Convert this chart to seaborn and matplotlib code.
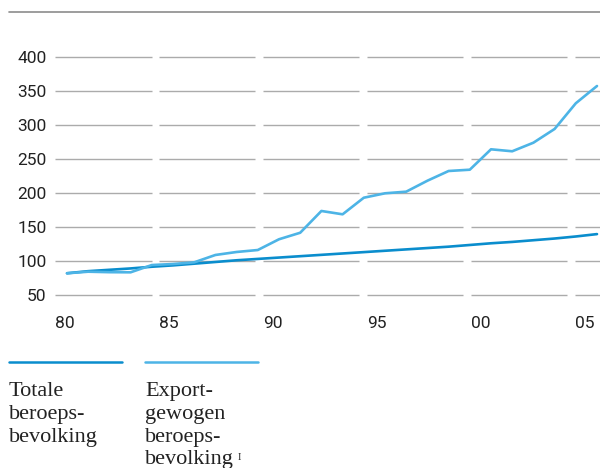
import numpy as np
import pandas as pd
import matplotlib
matplotlib.use("Agg")
import matplotlib.pyplot as plt
from matplotlib.lines import Line2D
import seaborn as sns

# ---------------- data ----------------
years = list(range(1980, 2006))
totale = [82.4, 85.5, 87.5, 89.5, 92.0, 94.0, 96.5, 99.0, 101.5, 103.5,
          105.5, 107.5, 109.5, 111.5, 113.5, 115.5, 117.5, 119.5, 121.5, 124.0,
          126.5, 128.5, 131.0, 133.5, 136.5, 140.0]
export = [82.4, 84.7, 84.0, 83.8, 94.5, 96.0, 98.5, 109.3, 113.7, 116.6,
          132.4, 142.0, 174.0, 169.1, 193.5, 200.0, 202.4, 218.5, 232.8, 234.7,
          264.7, 261.8, 274.4, 294.6, 332.4, 357.8]
y_ticks = [50, 100, 150, 200, 250, 300, 350, 400]
x_tick_labels = ["80", "85", "90", "95", "00", "05"]
series_names = ["Totale beroepsbevolking", "Exportgewogen beroepsbevolking"]
legend_texts = ["Totale\nberoeps-\nbevolking", "Export-\ngewogen\nberoeps-\nbevolking"]
colors = ["#0a8dcd", "#4db4e6"]

df = pd.DataFrame({
    "jaar": years * 2,
    "waarde": totale + export,
    "reeks": [series_names[0]] * len(years) + [series_names[1]] * len(years),
})

# ---------------- figure ----------------
sns.set_theme(style="white")
plt.rcParams["font.family"] = ["Roboto", "DejaVu Sans"]

W, H = 600, 468
fig = plt.figure(figsize=(W / 100, H / 100), dpi=100)

def fy(py):
    return 1 - py / H

ax_left, ax_right = 55, 600
ax_top, ax_bot = 53.9, 298.7
ax = fig.add_axes([ax_left / W, fy(ax_bot), (ax_right - ax_left) / W, (ax_bot - ax_top) / H])

px_per_year = 21.2
x0_px = 67.0
ax.set_xlim(1980 - (x0_px - ax_left) / px_per_year, 1980 + (ax_right - x0_px) / px_per_year)
ax.set_ylim(45, 405)

# segmented horizontal gridlines
seg_starts = [55.5 + 103.9 * k for k in range(6)]
for s in seg_starts:
    e = min(s + 96, 600)
    ax.hlines(y_ticks, (s - ax_left) / (ax_right - ax_left), (e - ax_left) / (ax_right - ax_left),
              transform=ax.get_yaxis_transform(), colors="#ababab", linewidth=1.0, zorder=1)

sns.lineplot(data=df, x="jaar", y="waarde", hue="reeks", hue_order=series_names,
             palette=colors, linewidth=1.9, legend=False, ax=ax, zorder=3)

for sp in ax.spines.values():
    sp.set_visible(False)

ax.set_yticks(y_ticks)
ax.set_yticklabels([str(v) for v in y_ticks])
label_px = [65 + 103.9 * k for k in range(6)]
ax.set_xticks([1980 + (p - x0_px) / px_per_year for p in label_px])
ax.set_xticklabels(x_tick_labels)
ax.tick_params(axis="y", length=0, pad=6, labelsize=12.5, labelcolor="#222222")
ax.tick_params(axis="x", length=0, pad=12.5, labelsize=12.5, labelcolor="#222222")
ax.set_xlabel("")
ax.set_ylabel("")
ax.grid(False)

# top rule
fig.add_artist(Line2D([9 / W, 1.0], [fy(12.3), fy(12.3)], color="#8c8c8c", linewidth=1.2))

# legend (manual, below the chart)
leg_x = [(9, 122), (145, 258)]
for (a, b), c, t in zip(leg_x, colors, legend_texts):
    fig.add_artist(Line2D([a / W, b / W], [fy(361.7), fy(361.7)], color=c, linewidth=1.8))
    fig.text(a / W, fy(382), t, ha="left", va="top", fontsize=16,
             family=["Liberation Serif", "DejaVu Serif"], color="#222222", linespacing=1.27)
fig.text(238 / W, fy(460), "I", ha="left", va="baseline", fontsize=7.5,
         family=["Liberation Serif", "DejaVu Serif"], color="#222222")

fig.savefig("out.png", dpi=100)
